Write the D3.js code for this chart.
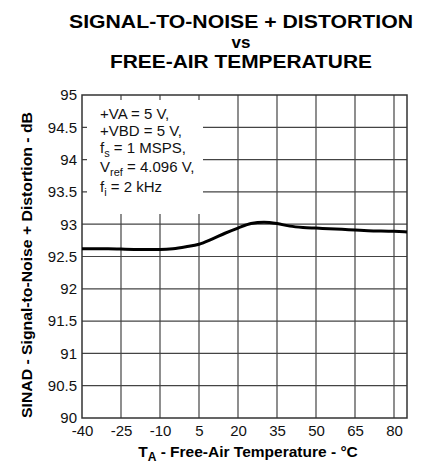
<!DOCTYPE html>
<html><head><meta charset="utf-8">
<script src="https://cdn.jsdelivr.net/npm/d3@7"></script>
<style>body{margin:0;background:#fff}svg{display:block}</style>
</head><body>
<svg id="c" width="429" height="465"></svg>
<script>
const titleLines = ["SIGNAL-TO-NOISE + DISTORTION", "vs", "FREE-AIR TEMPERATURE"];
const xTicks = [-40, -25, -10, 5, 20, 35, 50, 65, 80];
const yTicks = [90, 90.5, 91, 91.5, 92, 92.5, 93, 93.5, 94, 94.5, 95];
const temps = [-40, -30, -20, -10, -5, 0, 5, 10, 15, 20, 25, 30, 35, 40, 45, 50, 55, 60, 65, 70, 80, 85];
const sinad = [92.62, 92.62, 92.61, 92.61, 92.62, 92.65, 92.69, 92.77, 92.86, 92.94, 93.01, 93.03, 93.01, 92.97, 92.95, 92.94, 92.93, 92.92, 92.91, 92.9, 92.89, 92.88];

const svg = d3.select("#c");
const F = "'Liberation Sans', Arial, sans-serif";
const L = 82, R = 407, T = 95, B = 418;
const x = d3.scaleLinear().domain([-40, 85]).range([L, R]);
const y = d3.scaleLinear().domain([90, 95]).range([B, T]);

// title
const tb = [28, 48, 68];
const tl = [344, null, 262];
titleLines.forEach((t, i) => {
  const tt = svg.append("text").attr("x", 241).attr("y", tb[i]).attr("text-anchor", "middle")
    .attr("font-family", F).attr("font-weight", "bold").attr("font-size", i === 1 ? 17 : 19)
    .text(t);
  if (tl[i]) tt.attr("textLength", tl[i]).attr("lengthAdjust", "spacingAndGlyphs");
});

// grid
const g = svg.append("g");
g.selectAll("line.v").data(xTicks.slice(1)).join("line")
  .attr("x1", d => x(d)).attr("x2", d => x(d)).attr("y1", T).attr("y2", B)
  .attr("stroke", "#444").attr("stroke-width", 1.2);
g.selectAll("line.h").data(yTicks.slice(1, -1)).join("line")
  .attr("x1", L).attr("x2", R).attr("y1", d => y(d)).attr("y2", d => y(d))
  .attr("stroke", "#444").attr("stroke-width", 1.2);

// legend box (white background over grid)
svg.append("rect").attr("x", 87).attr("y", 100).attr("width", 116).attr("height", 114).attr("fill", "#fff");

// border
svg.append("rect").attr("x", L).attr("y", T).attr("width", R - L).attr("height", B - T)
  .attr("fill", "none").attr("stroke", "#333").attr("stroke-width", 1.5);

// axes labels via d3 axes (no tick lines)
const xAxis = d3.axisBottom(x).tickValues(xTicks).tickSize(0).tickPadding(7).tickFormat(d => String(d));
const xa = svg.append("g").attr("transform", `translate(0,${B})`).call(xAxis);
xa.select(".domain").remove();
xa.selectAll("text").attr("font-family", F).attr("font-size", 15).attr("fill", "#111").attr("dy", "0.71em");

const yAxis = d3.axisLeft(y).tickValues(yTicks).tickSize(0).tickPadding(5).tickFormat(d => String(d));
const ya = svg.append("g").attr("transform", `translate(${L},0)`).call(yAxis);
ya.select(".domain").remove();
ya.selectAll("text").attr("font-family", F).attr("font-size", 15).attr("fill", "#111");

// curve
const line = d3.line().x((d, i) => x(temps[i])).y(d => y(d)).curve(d3.curveMonotoneX);
svg.append("path").datum(sinad).attr("d", line).attr("fill", "none")
  .attr("stroke", "#000").attr("stroke-width", 3);

// legend text
const leg = svg.append("g").attr("font-family", F).attr("font-size", 15).attr("fill", "#111");
function ln(yy, parts) {
  const t = leg.append("text").attr("x", 100).attr("y", yy);
  parts.forEach(p => {
    const s = t.append("tspan").text(p[0]);
    if (p[1]) s.attr("font-size", 11).attr("dy", 4);
    if (p[2]) s.attr("dy", -4);
  });
}
ln(119, [["+VA = 5 V,"]]);
ln(136, [["+VBD = 5 V,"]]);
ln(153, [["f"], ["s", 1], [" = 1 MSPS,", 0, 1]]);
ln(172, [["V"], ["ref", 1], [" = 4.096 V,", 0, 1]]);
ln(192, [["f"], ["i", 1], [" = 2 kHz", 0, 1]]);

// axis titles
const xt = svg.append("text").attr("x", 248).attr("y", 457).attr("text-anchor", "middle")
  .attr("font-family", F).attr("font-weight", "bold").attr("font-size", 15.5);
xt.append("tspan").text("T");
xt.append("tspan").text("A").attr("font-size", 12).attr("dy", 4);
xt.append("tspan").text(" - Free-Air Temperature - °C").attr("dy", -4);

svg.append("text").attr("transform", "translate(32,265) rotate(-90)").attr("text-anchor", "middle")
  .attr("font-family", F).attr("font-weight", "bold").attr("font-size", 14)
  .attr("textLength", 306).attr("lengthAdjust", "spacingAndGlyphs")
  .text("SINAD - Signal-to-Noise + Distortion - dB");
</script>
</body></html>
